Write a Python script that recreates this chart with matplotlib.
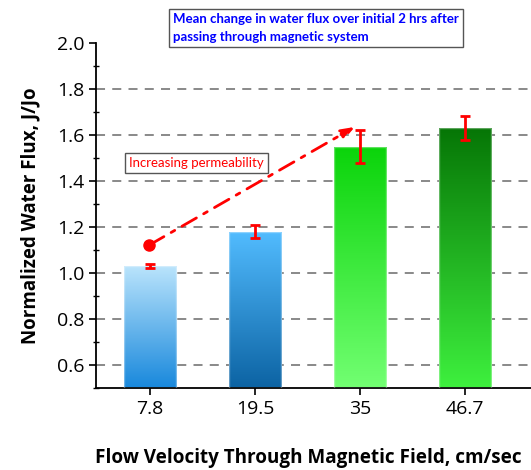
import numpy as np
import matplotlib
matplotlib.use("Agg")
import matplotlib.pyplot as plt
from matplotlib.colors import LinearSegmentedColormap
from matplotlib.ticker import MultipleLocator

categories = ["7.8", "19.5", "35", "46.7"]
flux = [1.03, 1.18, 1.55, 1.63]
flux_err = [0.008, 0.028, 0.072, 0.052]
# (top colour, bottom colour) of each bar gradient
bar_colors = [("#bae4fc", "#1888dc"),
              ("#52bcff", "#0c63a3"),
              ("#0ad40a", "#72ff72"),
              ("#067606", "#3ef03e")]
title_text = "Mean change in water flux over initial 2 hrs after\npassing through magnetic system"
note_text = "Increasing permeability"
arrow_start = (-0.005, 1.122)
arrow_end = (1.95, 1.635)

plt.rcParams['font.family'] = ['Open Sans', 'DejaVu Sans']

fig = plt.figure(figsize=(5.31, 4.70), dpi=100)
ax = fig.add_axes([96 / 531, 82 / 470, 435 / 531, 345 / 470])

x = np.arange(len(categories))
ymin, ymax = 0.5, 2.0
ax.set_xlim(-0.514, -0.514 + 435 / 105)
ax.set_ylim(ymin, ymax)

# grid behind everything
for v in np.arange(0.6, 1.81, 0.2):
    ax.axhline(v, color="#808080", lw=1.3, ls=(0, (5, 4)), zorder=0)

bars = ax.bar(x, flux, width=0.5, color="none", edgecolor="none", zorder=2)
for b, (top, bottom) in zip(bars, bar_colors):
    cmap = LinearSegmentedColormap.from_list("g", [bottom, top])
    grad = np.linspace(0, 1, 256).reshape(-1, 1)
    x0 = b.get_x()
    x1 = x0 + b.get_width()
    im = ax.imshow(grad, cmap=cmap, origin="lower", aspect="auto",
                   extent=(x0, x1, ymin, b.get_height()), zorder=2,
                   interpolation="bilinear")
    im.set_clip_path(b)
    ax.add_patch(plt.Rectangle((x0, ymin), b.get_width(), b.get_height() - ymin,
                               fill=False, edgecolor="white", alpha=0.35,
                               lw=1, zorder=3))

ax.errorbar(x, flux, yerr=flux_err, fmt="none", ecolor="red", elinewidth=2,
            capsize=3.5, capthick=2, zorder=4)

# the increasing permeability arrow
ax.annotate("", xy=arrow_end, xytext=arrow_start,
            arrowprops=dict(arrowstyle="-|>,head_length=0.8,head_width=0.3",
                            color="red", lw=2, ls=(0, (6, 3, 1.5, 3)),
                            shrinkA=0, shrinkB=0), zorder=5)
ax.plot(*arrow_start, marker="o", ms=8, color="red", zorder=5)

ax.set_xticks(x)
ax.set_xticklabels(categories)
ax.yaxis.set_major_locator(MultipleLocator(0.2))
ax.yaxis.set_minor_locator(MultipleLocator(0.1))
ax.tick_params(axis="both", which="major", direction="out", length=5,
               width=1.2, labelsize=14, colors="black")
ax.tick_params(axis="y", which="minor", direction="inout", length=4, width=1)
ax.yaxis.set_major_formatter(matplotlib.ticker.FormatStrFormatter("%.1f"))
for s in ("top", "right"):
    ax.spines[s].set_visible(False)
for s in ("left", "bottom"):
    ax.spines[s].set_linewidth(1.3)

ax.set_ylabel("Normalized Water Flux, J/Jo", fontsize=13.5, fontweight="bold",
              labelpad=12)
fig.text(95 / 531, 1 - 458 / 470, "Flow Velocity Through Magnetic Field, cm/sec",
         fontsize=13.6, fontweight="bold", ha="left", va="center")

fig.text(173 / 531, 1 - 28 / 470, title_text, fontsize=9.5, fontweight="bold",
         family=["Lato", "DejaVu Sans"],
         color="#0000ff", ha="left", va="center", linespacing=1.55,
         bbox=dict(boxstyle="square,pad=0.3", fc="white", ec="#555555", lw=1))
ax.text(-0.2, 1.48, note_text, fontsize=9.5, color="red", ha="left",
        va="center", family=["Lato", "DejaVu Sans"],
        bbox=dict(boxstyle="square,pad=0.3", fc="white", ec="#555555", lw=1),
        zorder=6)

fig.savefig("out.png", dpi=100)
